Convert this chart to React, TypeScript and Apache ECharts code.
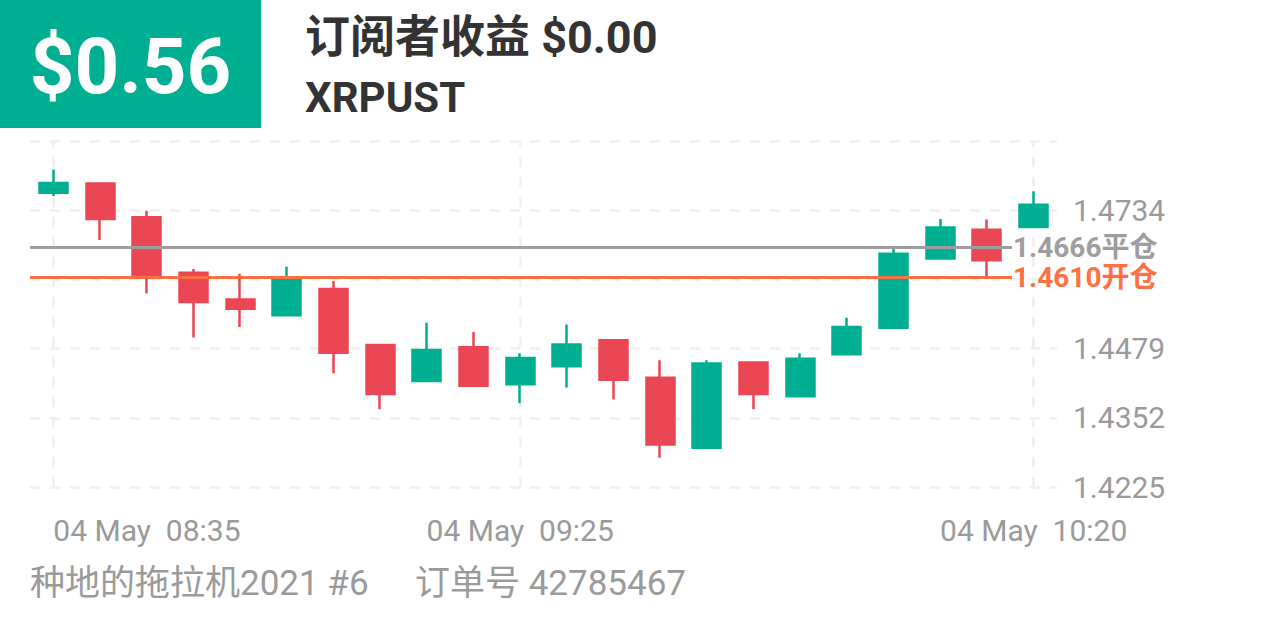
import React, { useEffect, useRef } from 'react';
import * as echarts from 'echarts';

// ---- data ----
const categories = [
  '08:35', '08:40', '08:45', '08:50', '08:55', '09:00', '09:05', '09:10', '09:15', '09:20', '09:25',
  '09:30', '09:35', '09:40', '09:45', '09:50', '09:55', '10:00', '10:05', '10:10', '10:15', '10:20',
];
const opens = [1.4766, 1.4783, 1.4721, 1.4619, 1.4570, 1.4541, 1.4589, 1.4486, 1.4420, 1.4482, 1.4414,
  1.4447, 1.4495, 1.4426, 1.4297, 1.4454, 1.4392, 1.4469, 1.4518, 1.4645, 1.4698, 1.4703];
const closes = [1.4784, 1.4718, 1.4614, 1.4565, 1.4553, 1.4607, 1.4472, 1.4396, 1.4477, 1.4411, 1.4462,
  1.4487, 1.4422, 1.4303, 1.4452, 1.4396, 1.4461, 1.4519, 1.4654, 1.4702, 1.4642, 1.4744];
const lows = [1.4760, 1.4679, 1.4581, 1.4500, 1.4519, 1.4541, 1.4434, 1.4368, 1.4420, 1.4411, 1.4379,
  1.4408, 1.4386, 1.4279, 1.4297, 1.4368, 1.4392, 1.4469, 1.4518, 1.4645, 1.4613, 1.4703];
const highs = [1.4809, 1.4783, 1.4733, 1.4626, 1.4617, 1.4630, 1.4604, 1.4486, 1.4527, 1.4510, 1.4471,
  1.4524, 1.4495, 1.4458, 1.4458, 1.4454, 1.4471, 1.4536, 1.4663, 1.4718, 1.4717, 1.4769];
const xDate = '04 May';
const labelledIndices = [0, 10, 21];
const yMin = 1.4225;
const yInterval = 0.012725;
const yMax = 1.486125;
const yTickLabels = ['1.4225', '1.4352', '1.4479', '', '1.4734', ''];
const openPrice = 1.461;
const closePrice = 1.4666;
const openLabel = '开仓';
const closeLabel = '平仓';
const profitText = '$0.56';
const subscriberText = '订阅者收益 $0.00';
const symbolText = 'XRPUST';
const traderText = '种地的拖拉机2021 #6';
const orderText = '订单号 42785467';

const FONT = "Roboto, 'Noto Sans CJK SC', sans-serif";
const GREEN = '#00AF91';
const RED = '#EB4654';
const GRAY = '#9A9A9A';
const LINE_GRAY = '#9E9E9E';
const ORANGE = '#FF7043';
const GRID = '#F0F0F0';

export default function App() {
  const ref = useRef<HTMLDivElement>(null);
  useEffect(() => {
    if (!ref.current) return;
    const chart = echarts.init(ref.current, undefined, { renderer: 'svg' });
    const candleData = opens.map((o, i) => [o, closes[i], lows[i], highs[i]]);
    const priceLine = (v: number, name: string, color: string, padding: number[]) => [
      {
        x: 30,
        yAxis: v,
        name: v.toFixed(4) + name,
        lineStyle: { color, width: 3, type: 'solid' },
        label: {
          show: true,
          position: 'end',
          distance: 1,
          formatter: '{b}',
          color,
          fontSize: 28,
          lineHeight: 26,
          padding,
          fontWeight: 'bold',
          fontFamily: FONT,
        },
      },
      { x: 1012, yAxis: v },
    ];
    const option: any = {
      animation: false,
      backgroundColor: '#ffffff',
      grid: { left: 30, right: 209, top: 141, height: 346 },
      xAxis: {
        type: 'category',
        data: categories,
        boundaryGap: true,
        axisLine: { show: false },
        axisTick: { show: false },
        splitLine: { show: false },
        axisLabel: {
          interval: (i: number) => labelledIndices.includes(i),
          formatter: (v: string) => xDate + '\u00a0\u00a0' + v,
          color: GRAY,
          fontSize: 30,
          fontFamily: FONT,
          margin: 28,
          alignMinLabel: 'left',
        },
      },
      yAxis: {
        type: 'value',
        position: 'right',
        min: yMin,
        max: yMax,
        interval: yInterval,
        axisLine: { show: false },
        axisTick: { show: false },
        splitLine: { show: true, lineStyle: { color: GRID, width: 2.5, type: [10, 10] } },
        axisLabel: {
          formatter: (_v: number, i: number) => yTickLabels[i] ?? '',
          color: GRAY,
          fontSize: 30,
          fontFamily: FONT,
          margin: 16,
        },
      },
      series: [
        {
          type: 'line',
          data: [],
          silent: true,
          markLine: {
            silent: true,
            z: 1,
            symbol: ['none', 'none'],
            label: { show: false },
            lineStyle: { color: GRID, width: 2.5, type: [10, 10] },
            data: labelledIndices.map((i) => ({ xAxis: categories[i] })),
          },
        },
        {
          type: 'candlestick',
          data: candleData,
          barWidth: 28.5,
          itemStyle: {
            color: GREEN,
            color0: RED,
            borderColor: GREEN,
            borderColor0: RED,
            borderWidth: 2.5,
          },
          markLine: {
            silent: true,
            symbol: ['none', 'none'],
            data: [
              priceLine(closePrice, closeLabel, LINE_GRAY, [0, 0, 6, 0]),
              priceLine(openPrice, openLabel, ORANGE, [6, 0, 0, 0]),
            ],
          },
        },
      ],
      graphic: [
        { type: 'rect', shape: { x: 0, y: 0, width: 261, height: 128 }, style: { fill: GREEN } },
        {
          type: 'text', x: 130.5, y: 66,
          style: { text: profitText, fill: '#ffffff', fontSize: 78, fontWeight: 'bold', fontFamily: FONT, textAlign: 'center', textVerticalAlign: 'middle' },
        },
        {
          type: 'text', x: 305, y: 37,
          style: { text: subscriberText, fill: '#333333', fontSize: 45, fontWeight: 'bold', fontFamily: FONT, textAlign: 'left', textVerticalAlign: 'middle' },
        },
        {
          type: 'text', x: 305, y: 97,
          style: { text: symbolText, fill: '#333333', fontSize: 42, fontWeight: 'bold', fontFamily: FONT, textAlign: 'left', textVerticalAlign: 'middle' },
        },
        {
          type: 'text', x: 30, y: 583,
          style: { text: traderText, fill: GRAY, fontSize: 35, fontFamily: FONT, textAlign: 'left', textVerticalAlign: 'middle' },
        },
        {
          type: 'text', x: 415, y: 583,
          style: { text: orderText, fill: GRAY, fontSize: 35, fontFamily: FONT, textAlign: 'left', textVerticalAlign: 'middle' },
        },
      ],
    };
    chart.setOption(option);
    return () => chart.dispose();
  }, []);
  return (
    <div
      ref={ref}
      style={{ position: 'fixed', left: 0, top: 0, width: 1266, height: 633, background: '#fff' }}
    />
  );
}
